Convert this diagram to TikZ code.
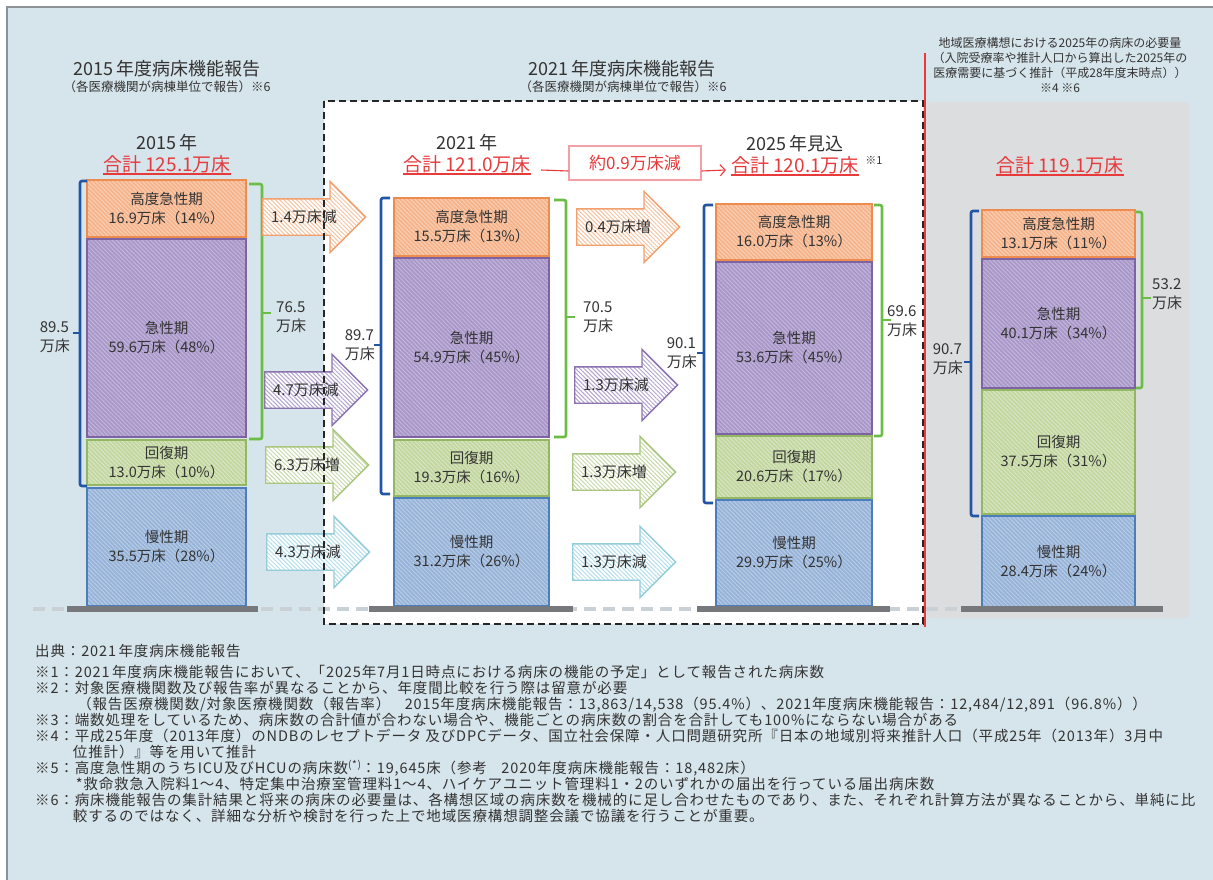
\documentclass[tikz,border=0pt]{standalone}
\usepackage{fontspec}
\setmainfont{Noto Sans CJK JP}
\newfontfamily\notefont[LetterSpace=6]{Noto Sans CJK JP}
\usetikzlibrary{arrows.meta, shapes.arrows, patterns.meta}
\definecolor{bgBlue}{HTML}{D6E4EB}
\definecolor{frameGray}{HTML}{8C9196}
\definecolor{panelGray}{HTML}{DCDDDF}
\definecolor{inkGray}{HTML}{333333}
\definecolor{totRed}{HTML}{E8393B}
\definecolor{diffEdge}{HTML}{F2A0A6}
\definecolor{braceBlue}{HTML}{2255A4}
\definecolor{braceGreen}{HTML}{6CBD45}
\definecolor{baseGray}{HTML}{77787B}
\definecolor{dashGray}{HTML}{C9D1D6}
\definecolor{hacLine}{HTML}{EE8C50}
\definecolor{hacFill}{HTML}{F5B38C}
\definecolor{hacHatch}{HTML}{F9CFB3}
\definecolor{hacEdge}{HTML}{F1A06E}
\definecolor{hacTint}{HTML}{F7C3A0}
\definecolor{acLine}{HTML}{7D63A1}
\definecolor{acFill}{HTML}{A997C9}
\definecolor{acHatch}{HTML}{C2B6DA}
\definecolor{acEdge}{HTML}{8B73AF}
\definecolor{acTint}{HTML}{B3A5D0}
\definecolor{recLine}{HTML}{93B762}
\definecolor{recFill}{HTML}{C2D69F}
\definecolor{recHatch}{HTML}{D9E6C3}
\definecolor{recEdge}{HTML}{A9C57E}
\definecolor{recTint}{HTML}{C6DAA8}
\definecolor{chrLine}{HTML}{4C7EBB}
\definecolor{chrFill}{HTML}{97B3D8}
\definecolor{chrHatch}{HTML}{B8CCE6}
\definecolor{chrEdge}{HTML}{95CCDA}
\definecolor{chrTint}{HTML}{B6E0EA}

\begin{document}
\begin{tikzpicture}[x=1pt, y=-1pt, text=inkGray,
	bar/.style={draw=#1Line, line width=2.4pt, preaction={fill=#1Fill},
		pattern={Lines[angle=-45, distance=3pt, line width=1pt]}, pattern color=#1Hatch},
	bartext/.style={align=center, font=\fontsize{14.5}{19}\selectfont},
	flow/.style={single arrow, draw=#1Edge, line width=1.4pt, preaction={fill=white},
		pattern={Lines[angle=-45, distance=3pt, line width=1pt]}, pattern color=#1Tint,
		text height=22pt, text depth=9pt, inner sep=2pt,
		minimum height=103pt, minimum width=70pt, single arrow head extend=17.5pt},
	flowtext/.style={font=\fontsize{15}{18}\selectfont, inner sep=0pt},
	blueBrace/.style={draw=braceBlue, line width=2.6pt, rounded corners=2pt},
	greenBrace/.style={draw=braceGreen, line width=2.6pt, rounded corners=2pt},
	sumtext/.style={align=left, font=\fontsize{15}{19}\selectfont, inner sep=0pt},
	titleText/.style={font=\fontsize{18}{22}\selectfont},
	subText/.style={font=\fontsize{12.5}{15}\selectfont},
	yearText/.style={font=\fontsize{18}{22}\selectfont},
	total/.style={text=totRed, font=\fontsize{19}{22}\selectfont, inner sep=0pt},
	noteText/.style={align=left, font=\notefont\fontsize{14.5}{16}\selectfont, inner sep=0pt}
	]
	\useasboundingbox (0,0) rectangle (1213,879);
	
	% --- 1. Background, report box and right panel ---
	\draw[frameGray, line width=1.5pt, fill=bgBlue] (7,7) rectangle (1230,895);
	\fill[white] (324,101) rectangle (923,624);
	\fill[panelGray, rounded corners=4pt] (927,102) rectangle (1189,618);
	\draw[dashGray, line width=4pt, dash pattern=on 12pt off 7pt] (33,609) -- (961,609);
	
	% --- 2. Stacks ---
	% 2015
	\foreach \yt/\yb/\c/\lab [count=\i] in {
		180/237/hac/{高度急性期\\16.9万床（14\%）},
		239/437/ac/{急性期\\59.6万床（48\%）},
		440/485/rec/{回復期\\13.0万床（10\%）},
		488/606/chr/{慢性期\\35.5万床（28\%）}} {
		\draw[bar=\c] (87,\yt) rectangle (246,\yb);
		\node[bartext] (b15-\i) at (166.5,{(\yt+\yb)/2}) {\lab};
	}
	% 2021
	\foreach \yt/\yb/\c/\lab [count=\i] in {
		198/256/hac/{高度急性期\\15.5万床（13\%）},
		258/437/ac/{急性期\\54.9万床（45\%）},
		440/496/rec/{回復期\\19.3万床（16\%）},
		498/606/chr/{慢性期\\31.2万床（26\%）}} {
		\draw[bar=\c] (394,\yt) rectangle (549,\yb);
		\node[bartext] (b21-\i) at (471.5,{(\yt+\yb)/2}) {\lab};
	}
	% 2025 (planned)
	\foreach \yt/\yb/\c/\lab [count=\i] in {
		204/260/hac/{高度急性期\\16.0万床（13\%）},
		262/434/ac/{急性期\\53.6万床（45\%）},
		436/498/rec/{回復期\\20.6万床（17\%）},
		500/606/chr/{慢性期\\29.9万床（25\%）}} {
		\draw[bar=\c] (716,\yt) rectangle (872,\yb);
		\node[bartext] (b25-\i) at (794,{(\yt+\yb)/2}) {\lab};
	}
	% 2025 (required)
	\foreach \yt/\yb/\c/\lab [count=\i] in {
		210/257/hac/{高度急性期\\13.1万床（11\%）},
		259/388/ac/{急性期\\40.1万床（34\%）},
		390/514/rec/{回復期\\37.5万床（31\%）},
		516/607/chr/{慢性期\\28.4万床（24\%）}} {
		\draw[bar=\c] (982,\yt) rectangle (1135,\yb);
		\node[bartext] (bneed-\i) at (1058.5,{(\yt+\yb)/2}) {\lab};
	}
	
	% base plates
	\foreach \xa/\xb in {67/258, 369/573, 697/890, 961/1163} {
		\fill[baseGray] (\xa,606) rectangle (\xb,612);
	}
	
	% --- 3. Brackets ---
	\foreach \x/\xe/\yt/\yb/\ym in {80/87/181/486/333, 381/390/198/494/345, 704/713/205/503/353, 971/979/211/516/362} {
		\draw[blueBrace] (\xe,\yt) -- (\x,\yt) -- (\x,\yb) -- (\xe,\yb);
		\draw[blueBrace] (\x,\ym) -- ({\x-7},\ym);
	}
	\foreach \x/\xe/\yt/\yb/\ym in {262/249/184/439/313, 566/554/200/437/317, 882/874/205/436/320, 1142/1136/212/388/298} {
		\draw[greenBrace] (\xe,\yt) -- (\x,\yt) -- (\x,\yb) -- (\xe,\yb);
		\draw[greenBrace] (\x,\ym) -- ({\x+9},\ym);
	}
	\node[sumtext, anchor=east] (sum15a) at (70,337) {89.5\\万床};
	\node[sumtext, anchor=west] (sum15b) at (276,317) {76.5\\万床};
	\node[sumtext, anchor=east] (sum21a) at (375,345) {89.7\\万床};
	\node[sumtext, anchor=west] (sum21b) at (583,317) {70.5\\万床};
	\node[sumtext, anchor=east] (sum25a) at (697,353) {90.1\\万床};
	\node[sumtext, anchor=west] (sum25b) at (887,321) {69.6\\万床};
	\node[sumtext, anchor=east] (sumneed-a) at (963,359) {90.7\\万床};
	\node[sumtext, anchor=west] (sumneed-b) at (1152,294) {53.2\\万床};
	
	% --- 4. Change arrows ---
	\foreach \tx/\cy/\c/\t [count=\i] in {
		262/217/hac/1.4万床減, 264/390/ac/4.7万床減, 265/465/rec/6.3万床増, 266/552/chr/4.3万床減,
		576/227/hac/0.4万床増, 574/385/ac/1.3万床減, 572/472/rec/1.3万床増, 572/562/chr/1.3万床減} {
		\node[flow=\c, anchor=tail] (f\i) at (\tx,\cy) {};
		\node[flowtext] (ft\i) at ([xshift=42pt]f\i.tail) {\t};
	}
	
	% --- 5. Headings and totals ---
	\node[titleText] (h15) at (167,69) {2015\,年度病床機能報告};
	\node[subText] (s15) at (167,87) {（各医療機関が病棟単位で報告）※6};
	\node[titleText] (h21) at (622,69) {2021\,年度病床機能報告};
	\node[subText] (s21) at (623,87) {（各医療機関が病棟単位で報告）※6};
	\node[subText, align=center, font=\fontsize{12}{15.3}\selectfont] (hneed) at (1060,65)
		{地域医療構想における2025年の病床の必要量\\（入院受療率や推計人口から算出した2025年の\\医療需要に基づく推計（平成28年度末時点））\\※4 ※6};
	
	\node[yearText] (y15) at (167,143) {2015\,年};
	\node[total] (t15) at (167,164) {合計 125.1万床};
	\node[yearText] (y21) at (467,143) {2021\,年};
	\node[total] (t21) at (467,164) {合計 121.0万床};
	\node[yearText] (y25) at (795,144) {2025\,年見込};
	\node[total] (t25) at (795,165) {合計 120.1万床};
	\node[font=\fontsize{11}{13}\selectfont] (n25) at (874,160) {※1};
	\node[total] (tneed) at (1060,165) {合計 119.1万床};
	\foreach \n in {t15, t21, t25, tneed} {
		\draw[totRed, line width=1.3pt] ([yshift=-1pt]\n.south west) -- ([yshift=-1pt]\n.south east);
	}
	
	% change between 2021 and 2025
	\node[draw=diffEdge, line width=1.2pt, fill=white, text=totRed, minimum width=132pt,
		minimum height=34pt, font=\fontsize{17}{20}\selectfont] (diff) at (635,163) {約0.9万床減};
	\draw[totRed, line width=1.1pt] ([xshift=10pt,yshift=-6pt]t21.east) -- ([yshift=-8pt]diff.west);
	\draw[totRed, line width=1.1pt, -{Straight Barb[length=5pt,width=11pt]}] ([yshift=-8pt]diff.east) -- ([xshift=-5pt,yshift=-5pt]t25.west);
	
	% --- 6. Frames drawn on top ---
	\draw[black!85, line width=2pt, dash pattern=on 7pt off 4pt] (324,101) rectangle (923,624);
	\draw[totRed, line width=2pt] (925,53) -- (925,627);
	
	% --- 7. Notes ---
	\node[noteText, anchor=north west] (src) at (35,644) {出典：2021\,年度病床機能報告};
	\node[noteText, anchor=north west] (notes) at (35,665) {%
		※1：2021\,年度病床機能報告において、「2025年7月1日時点における病床の機能の予定」として報告された病床数\\
		※2：対象医療機関数及び報告率が異なることから、年度間比較を行う際は留意が必要\\
		\hspace*{2.9em}（報告医療機関数/対象医療機関数（報告率）\quad 2015年度病床機能報告：13,863/14,538（95.4\%）、2021年度病床機能報告：12,484/12,891（96.8\%））\\
		※3：端数処理をしているため、病床数の合計値が合わない場合や、機能ごとの病床数の割合を合計しても100\%にならない場合がある\\
		※4：平成25年度（2013年度）のNDBのレセプトデータ 及びDPCデータ、国立社会保障・人口問題研究所『日本の地域別将来推計人口（平成25年（2013年）3月中\\
		\hspace*{2.6em}位推計）』等を用いて推計\\
		※5：高度急性期のうちICU及びHCUの病床数\textsuperscript{(*)}：19,645床（参考\quad 2020年度病床機能報告：18,482床）\\
		\hspace*{2.8em}*救命救急入院料1～4、特定集中治療室管理料1～4、ハイケアユニット管理料1・2のいずれかの届出を行っている届出病床数\\
		※6：病床機能報告の集計結果と将来の病床の必要量は、各構想区域の病床数を機械的に足し合わせたものであり、また、それぞれ計算方法が異なることから、単純に比\\
		\hspace*{2.6em}較するのではなく、詳細な分析や検討を行った上で地域医療構想調整会議で協議を行うことが重要。};
	
\end{tikzpicture}
\end{document}
